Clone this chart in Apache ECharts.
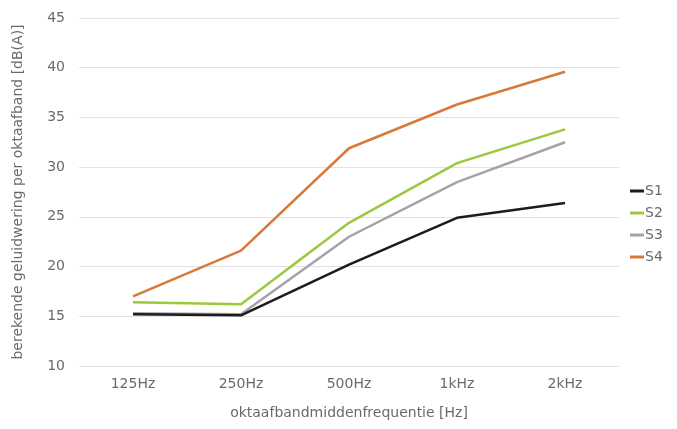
<!DOCTYPE html>
<html>
<head>
<meta charset="utf-8">
<script src="https://cdn.jsdelivr.net/npm/echarts@6/dist/echarts.min.js"></script>
<style>
  html, body { margin: 0; padding: 0; background: #ffffff; }
  #chart { width: 677px; height: 429px; }
</style>
</head>
<body>
<div id="chart"></div>
<script>
// Octave band centre frequencies
const categories = ['125Hz', '250Hz', '500Hz', '1kHz', '2kHz'];

// Calculated sound insulation per octave band, dB(A)
const s1 = [15.2, 15.1, 20.2, 24.9, 26.4];
const s2 = [16.4, 16.2, 24.4, 30.4, 33.8];
const s3 = [15.3, 15.2, 23.0, 28.5, 32.5];
const s4 = [17.0, 21.6, 31.9, 36.3, 39.6];

const seriesNames = ['S1', 'S2', 'S3', 'S4'];
const seriesColors = ['#1c1c1c', '#9cc83f', '#a3a3a8', '#d8793a'];
const seriesData = [s1, s2, s3, s4];

const textColor = '#6a6a6a';
const font = 'DejaVu Sans, Arial, sans-serif';
const fontSize = 14;

const chart = echarts.init(document.getElementById('chart'), null, { renderer: 'canvas' });

chart.setOption({
  animation: false,
  backgroundColor: '#ffffff',
  grid: { left: 79, right: 58, top: 18, bottom: 63 },
  legend: {
    orient: 'vertical',
    left: 625,
    top: 179,
    itemWidth: 14,
    itemHeight: 3,
    itemGap: 8,
    icon: 'rect',
    textStyle: { color: textColor, fontSize: fontSize, fontFamily: font, padding: [0, 0, 0, -4] },
    data: seriesNames
  },
  xAxis: {
    type: 'category',
    data: categories,
    boundaryGap: true,
    name: 'oktaafbandmiddenfrequentie [Hz]',
    nameLocation: 'middle',
    nameGap: 40,
    nameTextStyle: { color: textColor, fontSize: fontSize, fontFamily: font },
    axisLine: { show: false },
    axisTick: { show: false },
    axisLabel: { color: textColor, fontSize: fontSize, fontFamily: font, margin: 11 }
  },
  yAxis: {
    type: 'value',
    min: 10,
    max: 45,
    interval: 5,
    name: 'berekende geluidwering per oktaafband [dB(A)]',
    nameLocation: 'middle',
    nameGap: 54,
    nameTextStyle: { color: textColor, fontSize: fontSize, fontFamily: font },
    axisLine: { show: false },
    axisTick: { show: false },
    axisLabel: { color: textColor, fontSize: fontSize, fontFamily: font, margin: 14 },
    splitLine: { lineStyle: { color: '#e2e2e2', width: 1 } }
  },
  series: seriesNames.map((name, i) => ({
    name: name,
    type: 'line',
    data: seriesData[i],
    symbol: 'none',
    color: seriesColors[i],
    lineStyle: { width: 2.5, color: seriesColors[i] },
    z: 10 - i
  }))
});
</script>
</body>
</html>
